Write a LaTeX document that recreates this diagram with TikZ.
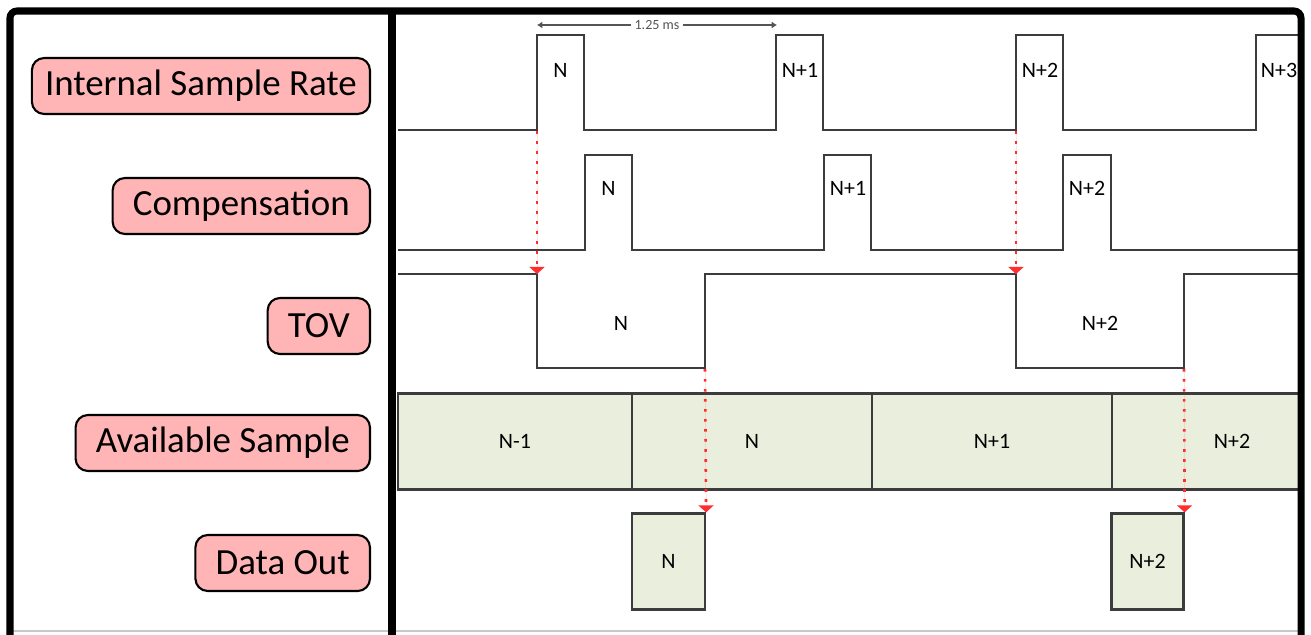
\documentclass[tikz,border=0pt]{standalone}
\usepackage{fontspec}
\setmainfont{Carlito}
\usetikzlibrary{arrows.meta,positioning}
\definecolor{TimPink}{RGB}{255,181,181}
\definecolor{TimGreen}{RGB}{234,239,221}
\definecolor{TimWave}{RGB}{60,60,60}
\definecolor{TimRed}{RGB}{255,45,45}
\definecolor{TimGray}{RGB}{85,85,85}
\definecolor{TimEdge}{RGB}{200,200,200}
\tikzset{
  tim/frame/.style={draw=black, line width=4pt},
  tim/label/.style={
    draw=black,
    line width=1.2pt,
    rounded corners=7pt,
    fill=TimPink,
    anchor=east,
    text=black,
    minimum height=1.12cm,
    inner xsep=11.5pt,
    font=\fontsize{21}{25}\selectfont
  },
  tim/wave/.style={draw=TimWave, line width=1.1pt},
  tim/cell/.style={
    draw=TimWave,
    line width=1.3pt,
    fill=TimGreen,
    minimum height=1.92cm,
    inner sep=0pt,
    font=\fontsize{12.5}{14}\selectfont
  },
  tim/val/.style={font=\fontsize{12.5}{14}\selectfont, text=black, inner sep=1pt},
  tim/trigger/.style={-{Triangle[length=4pt,width=8.5pt]}, draw=TimRed, fill=TimRed, line width=1.5pt, dash pattern=on 1.5pt off 4.2pt},
  tim/period/.style={{Latex[length=3pt,width=4pt]}-{Latex[length=3pt,width=4pt]}, draw=TimGray, line width=0.8pt},
  tim/tiny/.style={font=\fontsize{8}{9}\selectfont, text=TimGray, fill=white, inner xsep=2pt, inner ysep=0pt}
}

\begin{document}
\begin{tikzpicture}[x=0.02cm,y=-0.02cm]
  \useasboundingbox (0,0) rectangle (1311,635);
  \fill[white] (0,0) rectangle (1311,635);

  % signal names
  \node[tim/label,inner xsep=7.5pt] (lblIsr) at (371,86) {Internal Sample Rate};
  \node[tim/label] (lblComp) at (371,206) {Compensation};
  \node[tim/label] (lblTov) at (371,326) {TOV};
  \node[tim/label] (lblAvail) at (371,443) {Available Sample};
  \node[tim/label] (lblOut) at (371,563) {Data Out};

  % available sample cells
  \begin{scope}
    \clip (396,14) rectangle (1299,632);
    \node[tim/cell,minimum width=4.68cm] (availA) at (515,441.5) {N-1};
    \node[tim/cell,minimum width=4.8cm] (availB) at (752,441.5) {N};
    \node[tim/cell,minimum width=4.8cm] (availC) at (992,441.5) {N+1};
    \node[tim/cell,minimum width=4.8cm] (availD) at (1232,441.5) {N+2};
  \end{scope}

  % data out boxes
  \node[tim/cell,minimum width=1.46cm] (outN) at (668.5,561.5) {N};
  \node[tim/cell,minimum width=1.44cm] (outNtwo) at (1147.5,561.5) {N+2};

  % internal sample rate
  \draw[tim/wave] (398,130) -- (537,130) -- (537,35) -- (584,35) -- (584,130)
    -- (776,130) -- (776,35) -- (823,35) -- (823,130)
    -- (1016,130) -- (1016,35) -- (1063,35) -- (1063,130)
    -- (1256,130) -- (1256,35) -- (1300,35);
  \node[tim/val] (isrN) at (560.5,70) {N};
  \node[tim/val] (isrNone) at (800,70) {N+1};
  \node[tim/val] (isrNtwo) at (1040,70) {N+2};
  \node[tim/val] (isrNthree) at (1279,70) {N+3};

  % compensation
  \draw[tim/wave] (398,250) -- (585,250) -- (585,155) -- (632,155) -- (632,250)
    -- (824,250) -- (824,155) -- (871,155) -- (871,250)
    -- (1063,250) -- (1063,155) -- (1111,155) -- (1111,250) -- (1300,250);
  \node[tim/val] (compN) at (608.5,188) {N};
  \node[tim/val] (compNone) at (848,188) {N+1};
  \node[tim/val] (compNtwo) at (1087,188) {N+2};

  % TOV
  \draw[tim/wave] (398,274) -- (537,274) -- (537,368) -- (705,368) -- (705,274)
    -- (1016,274) -- (1016,368) -- (1184,368) -- (1184,274) -- (1300,274);
  \node[tim/val] (tovN) at (621,323) {N};
  \node[tim/val] (tovNtwo) at (1100,323) {N+2};

  % trigger points
  \coordinate (riseN) at (537,131);
  \coordinate (riseNtwo) at (1016,131);
  \coordinate (tovLowN) at (537,274);
  \coordinate (tovLowNtwo) at (1016,274);
  \coordinate (tovHighN) at (705,369);
  \coordinate (tovHighNtwo) at (1184,369);
  \draw[tim/trigger] (riseN) -- (tovLowN);
  \draw[tim/trigger] (riseNtwo) -- (tovLowNtwo);
  \draw[tim/trigger] (tovHighN) -- (outN.north east);
  \draw[tim/trigger] (tovHighNtwo) -- (outNtwo.north east);

  % sample period
  \coordinate (perA) at (537,25);
  \coordinate (perB) at (777,25);
  \draw[tim/period] (perA) -- node[tim/tiny] (perLbl) {1.25 ms} (perB);

  % frame
  \draw[TimEdge, line width=0.6pt] (10,631) -- (1301,631);
  \draw[tim/frame, rounded corners=4pt] (10,11) rectangle (1301,650);
  \draw[tim/frame] (392,11) -- (392,650);
\end{tikzpicture}
\end{document}
